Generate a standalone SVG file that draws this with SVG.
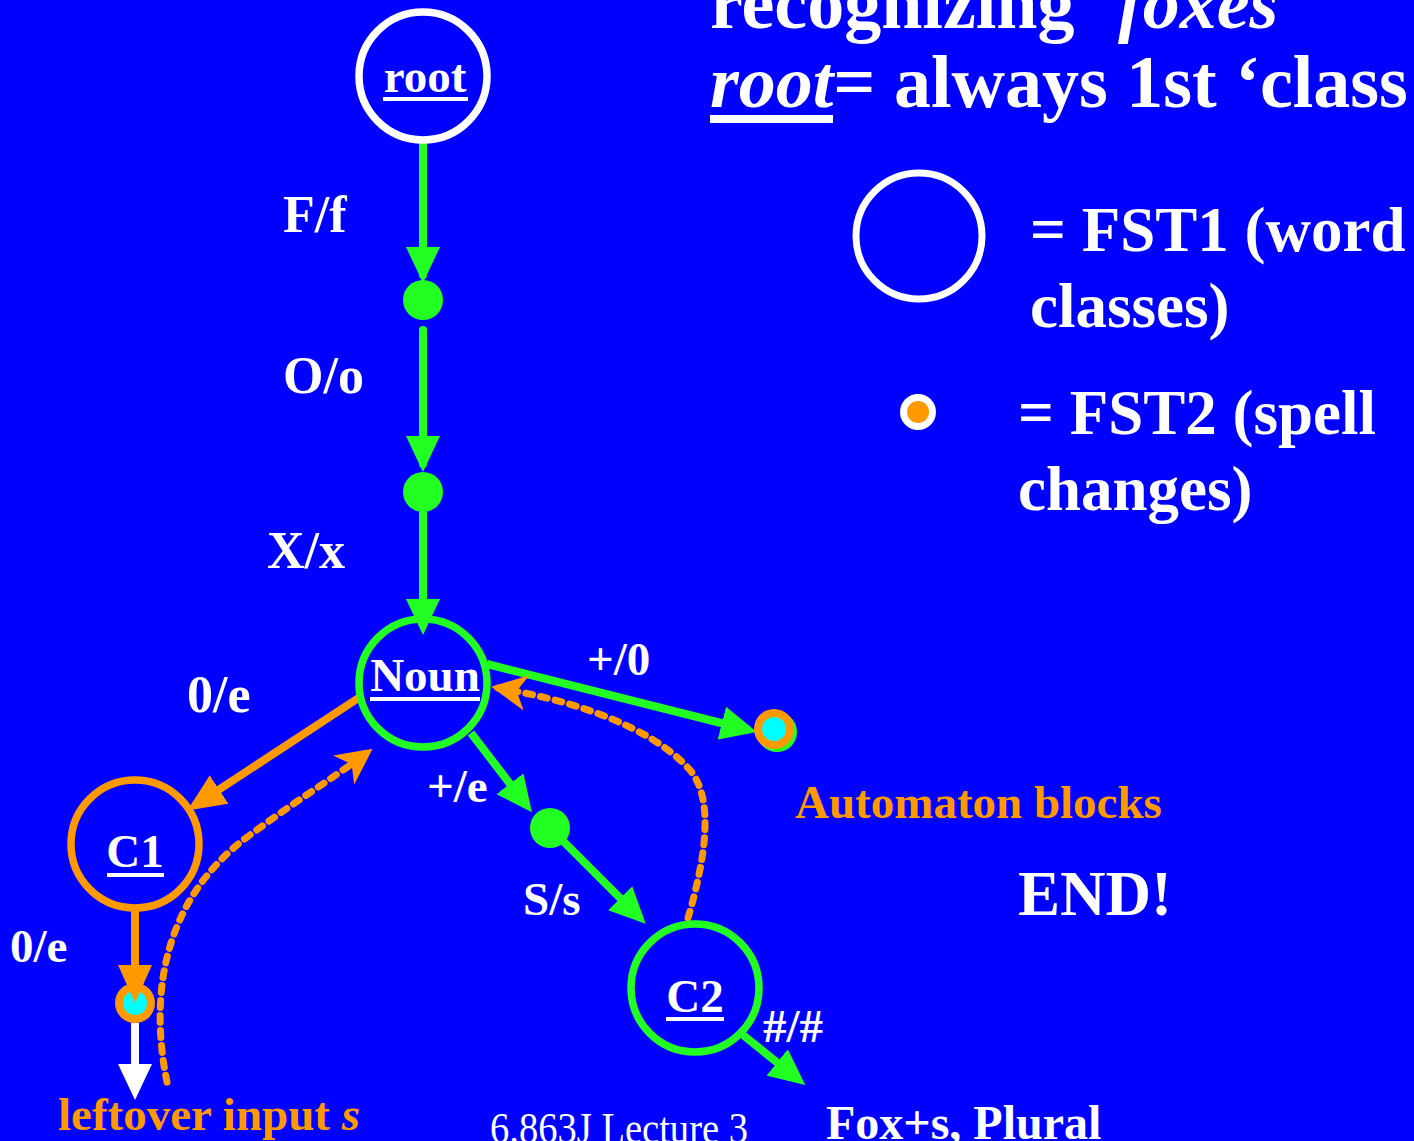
<svg xmlns="http://www.w3.org/2000/svg" width="1414" height="1141" viewBox="0 0 1414 1141">
  <style>
    text { font-family: "Liberation Serif", "Times New Roman", serif; font-weight: bold; fill: #FFFFFF; }
    .lbl { font-size: 47px; }
    .big { font-size: 52px; }
    .title { font-size: 74px; }
    .leg { font-size: 63px; }
    .org { fill: #FF9900; }
    .state { fill: none; stroke-width: 7.5; }
    .g { stroke: #22FF22; }
    .o { stroke: #FF9900; }
    .w { stroke: #FFFFFF; }
    .edge { fill: none; stroke-width: 8; }
    .dash { fill: none; stroke: #FF9900; stroke-width: 7; stroke-dasharray: 7 8; stroke-linecap: round; }
    .ul { fill: #FFFFFF; }
  </style>
  <defs>
    <marker id="ag" markerUnits="userSpaceOnUse" markerWidth="36" markerHeight="34" viewBox="0 0 36 34" refX="28" refY="17" orient="auto">
      <path d="M0,0 L36,17 L0,34 z" fill="#22FF22"/>
    </marker>
    <marker id="ao" markerUnits="userSpaceOnUse" markerWidth="38" markerHeight="34" viewBox="0 0 38 34" refX="30" refY="17" orient="auto">
      <path d="M0,0 L38,17 L0,34 z" fill="#FF9900"/>
    </marker>
    <marker id="aw" markerUnits="userSpaceOnUse" markerWidth="36" markerHeight="34" viewBox="0 0 36 34" refX="28" refY="17" orient="auto">
      <path d="M0,0 L36,17 L0,34 z" fill="#FFFFFF"/>
    </marker>
    <marker id="ad" markerUnits="userSpaceOnUse" markerWidth="36" markerHeight="36" viewBox="0 0 36 36" refX="29" refY="18" orient="auto">
      <path d="M0,0 L36,18 L0,36 L10,18 z" fill="#FF9900"/>
    </marker>
  </defs>

  <rect x="0" y="0" width="1414" height="1141" fill="#0000FF"/>

  <!-- title -->
  <g id="title">
    <text class="title" x="710" y="28">recognizing <tspan dx="25" font-style="italic">foxes</tspan></text>
    <text class="title" x="710" y="107"><tspan font-style="italic">root</tspan>= always 1st ‘class</text>
    <rect class="ul" x="710" y="115" width="123" height="8"/>
  </g>

  <!-- legend -->
  <g id="legend">
    <circle cx="919" cy="236" r="63" fill="none" stroke="#FFFFFF" stroke-width="7"/>
    <text class="leg" x="1030" y="251">= FST1 (word</text>
    <text class="leg" x="1030" y="327">classes)</text>
    <circle cx="918" cy="412" r="18" fill="#FFFFFF"/>
    <circle cx="918" cy="412" r="11" fill="#FF9900"/>
    <text class="leg" x="1018" y="434">= FST2 (spell</text>
    <text class="leg" x="1018" y="510">changes)</text>
  </g>

  <!-- connectors -->
  <g id="connectors">
    <line class="edge g" x1="423" y1="142" x2="423" y2="275" marker-end="url(#ag)" stroke-linecap="round"/>
    <line class="edge g" x1="423" y1="330" x2="423" y2="464" marker-end="url(#ag)" stroke-linecap="round"/>
    <line class="edge g" x1="423" y1="512" x2="423" y2="627" marker-end="url(#ag)"/>
    <line class="edge g" x1="487" y1="664" x2="749" y2="730" marker-end="url(#ag)"/>
    <line class="edge g" x1="471" y1="733" x2="527" y2="806" marker-end="url(#ag)"/>
    <line class="edge g" x1="562" y1="840" x2="640" y2="918" marker-end="url(#ag)"/>
    <line class="edge g" x1="743" y1="1035" x2="799" y2="1080" marker-end="url(#ag)"/>
    <line class="edge o" x1="360" y1="697" x2="194" y2="806" marker-end="url(#ao)" stroke-width="9"/>
    <line class="edge w" x1="135" y1="1023" x2="135" y2="1092" marker-end="url(#aw)"/>
    <path class="dash" d="M167,1082 C150,1000 160,900 250,835 C290,805 330,780 367,753" marker-end="url(#ad)"/>
    <path class="dash" d="M688,918 C705,860 715,800 690,770 C650,725 570,700 498,688" marker-end="url(#ad)"/>
  </g>

  <!-- nodes -->
  <g id="root">
    <circle class="state w" cx="423" cy="76" r="64"/>
    <text class="lbl" x="425" y="92" text-anchor="middle">root</text>
    <rect class="ul" x="383" y="97" width="85" height="4"/>
  </g>
  <g id="dot1"><circle cx="423" cy="300" r="20" fill="#22FF22"/></g>
  <g id="dot2"><circle cx="423" cy="492" r="20" fill="#22FF22"/></g>
  <g id="noun">
    <circle class="state g" cx="423" cy="683" r="64"/>
    <text class="lbl" x="425" y="691" text-anchor="middle">Noun</text>
    <rect class="ul" x="370" y="697" width="110" height="4"/>
  </g>
  <g id="dot3"><circle cx="550" cy="828" r="20" fill="#22FF22"/></g>
  <g id="block">
    <circle cx="777" cy="732" r="20" fill="#22FF22"/>
    <circle cx="774" cy="729" r="20" fill="#FF9900"/>
    <circle cx="774" cy="729" r="12" fill="#00FFFF"/>
  </g>
  <g id="c1">
    <circle class="state o" cx="135" cy="844" r="64"/>
    <text class="lbl" x="135" y="867" text-anchor="middle">C1</text>
    <rect class="ul" x="107" y="873" width="57" height="4"/>
  </g>
  <g id="c1dot">
    <circle cx="135" cy="1003" r="20" fill="#FF9900"/>
    <circle cx="135" cy="1003" r="12" fill="#00FFFF"/>
  </g>
  <g id="connectors-top">
    <line class="edge o" x1="135" y1="907" x2="135" y2="995" marker-end="url(#ao)"/>
  </g>
  <g id="c2">
    <circle class="state g" cx="695" cy="988" r="64"/>
    <text class="lbl" x="695" y="1012" text-anchor="middle">C2</text>
    <rect class="ul" x="666" y="1017" width="58" height="4"/>
  </g>

  <!-- labels -->
  <g id="labels">
    <text class="big" x="283" y="232">F/f</text>
    <text class="big" x="283" y="393">O/o</text>
    <text class="big" x="267" y="568">X/x</text>
    <text class="big" x="187" y="712">0/e</text>
    <text class="lbl" x="587" y="675">+/0</text>
    <text class="lbl" x="427" y="802">+/e</text>
    <text class="lbl" x="523" y="915">S/s</text>
    <text class="lbl" x="763" y="1042">#/#</text>
    <text class="lbl" x="10" y="962">0/e</text>
    <text class="lbl org" x="795" y="818">Automaton blocks</text>
    <text x="1018" y="915" font-size="63">END!</text>
    <text class="lbl org" x="58" y="1130">leftover input <tspan font-style="italic">s</tspan></text>
    <text x="490" y="1143" font-size="44" style="font-weight:normal" textLength="258" lengthAdjust="spacingAndGlyphs">6.863J Lecture 3</text>
    <text x="826" y="1139" font-size="48">Fox+s, Plural</text>
  </g>
</svg>
